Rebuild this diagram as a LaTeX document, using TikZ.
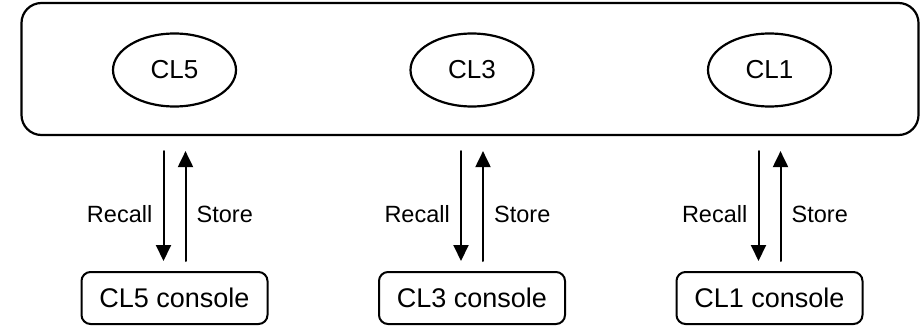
\documentclass[tikz,border=0pt]{standalone}
\usepackage{fontspec}
\setmainfont{Liberation Sans}
\usetikzlibrary{arrows.meta,positioning,shapes.geometric}

\begin{document}
\begin{tikzpicture}[line cap=round,line join=round,>={Triangle[length=16pt,width=15pt]},x=1pt,y=-1pt,
  clbox/.style={draw,line width=2.2pt,ellipse,minimum width=123,minimum height=73,inner sep=0pt,font=\fontsize{26}{30}\selectfont},
  conbox/.style={draw,line width=2pt,rounded corners=9pt,minimum width=186,minimum height=52,inner sep=0pt,font=\fontsize{27}{30}\selectfont},
  lbl/.style={inner sep=0pt,font=\fontsize{23.5}{28}\selectfont}]
\useasboundingbox (0,0) rectangle (921,326);
\node [draw,line width=2.2pt,rounded corners=20pt,minimum width=897,minimum height=132,inner sep=0pt] (mem) at (470,69) {};
\foreach \cl/\x in {5/174.5,3/472,1/769.5} {
  \node [clbox] (cl\cl) at (\x,70) {CL\cl};
  \node [conbox] (con\cl) at (\x,298) {CL\cl\ console};
  \coordinate (rtop\cl) at ([xshift=-11]con\cl.north |- mem.south);
  \coordinate (stop\cl) at ([xshift=11]con\cl.north |- mem.south);
  \draw [->,line width=2pt] ([yshift=-15]rtop\cl) -- ([yshift=10]rtop\cl |- con\cl.north);
  \draw [->,line width=2pt] ([yshift=10]stop\cl |- con\cl.north) -- ([yshift=-15]stop\cl);
  \node [lbl,anchor=east] at ([xshift=-11,yshift=-78]rtop\cl) {Recall};
  \node [lbl,anchor=west] at ([xshift=11,yshift=-78]stop\cl) {Store};
}
\end{tikzpicture}
\end{document}
